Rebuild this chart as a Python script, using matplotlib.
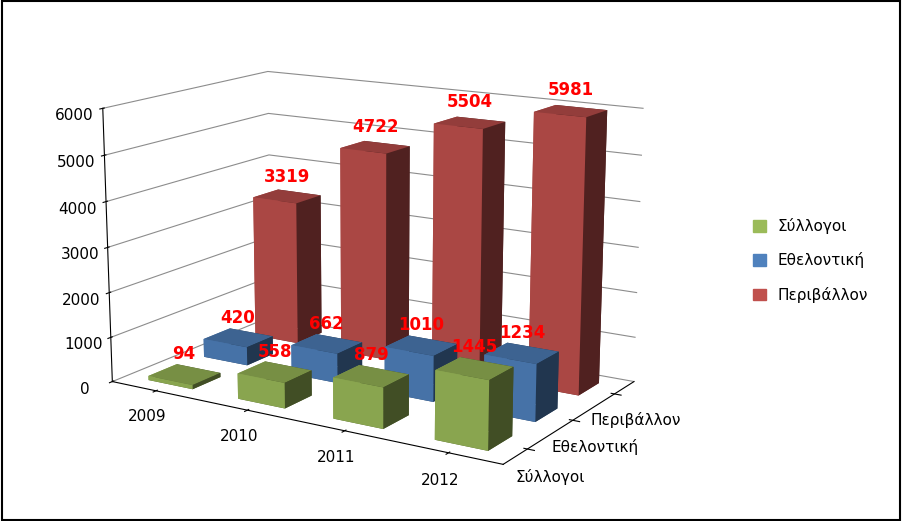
import matplotlib
matplotlib.use("Agg")
import matplotlib.pyplot as plt
import numpy as np
from matplotlib.patches import Patch

years = ["2009", "2010", "2011", "2012"]
series = ["Σύλλογοι", "Εθελοντική", "Περιβάλλον"]
syllogoi = [94, 558, 879, 1445]
ethelontiki = [420, 662, 1010, 1234]
perivallon = [3319, 4722, 5504, 5981]
values = [syllogoi, ethelontiki, perivallon]
colors = ["#9BBB59", "#4F81BD", "#C0504D"]

plt.rcParams['font.family'] = ['DejaVu Sans']
fig = plt.figure(figsize=(9.02, 5.21), dpi=100)
ax = fig.add_axes([-0.02, -0.05, 0.85, 1.12], projection='3d')
ax.set_proj_type('persp', focal_length=0.6)
w = 0.5
for j, (vals, c) in enumerate(zip(values, colors)):
    for i, v in enumerate(vals):
        ax.bar3d(i - w/2, j - w/2, 0, w, w, v, color=c, shade=True, edgecolor='none')
        ax.text(i, j, v + 250, str(v), color='red', fontsize=12, fontweight='bold',
                ha='center', va='bottom', zorder=100)
ax.set_xticks(range(4))
ax.set_xticklabels(years, fontsize=11)
ax.set_yticks(range(3))
ax.set_yticklabels(series, fontsize=11)
ax.set_zticks(range(0, 6001, 1000))
ax.set_zlim(0, 6000)
ax.set_xlim(-0.5, 3.5)
ax.set_ylim(-0.5, 2.5)
ax.tick_params(axis='z', labelsize=11)
ax.zaxis.set_ticks_position('lower')
for a in (ax.xaxis, ax.yaxis, ax.zaxis):
    a.set_pane_color((1, 1, 1, 0))
    a._axinfo['grid']['color'] = (0.55, 0.55, 0.55, 1)
ax.xaxis._axinfo['grid']['linewidth'] = 0
ax.yaxis._axinfo['grid']['linewidth'] = 0
ax.view_init(elev=14, azim=-58)
ax.set_box_aspect((1.6, 1.0, 1.0))

handles = [Patch(color=c, label=s) for s, c in zip(series, colors)]
fig.legend(handles=handles, loc='center left', bbox_to_anchor=(0.82, 0.5),
           frameon=False, fontsize=11, labelspacing=1.2, handlelength=0.8, handleheight=0.8)
fig.patches.append(plt.Rectangle((0.002, 0.002), 0.996, 0.996, transform=fig.transFigure,
                                 fill=False, edgecolor='black', linewidth=1.5))
fig.savefig("out.png", dpi=100)
